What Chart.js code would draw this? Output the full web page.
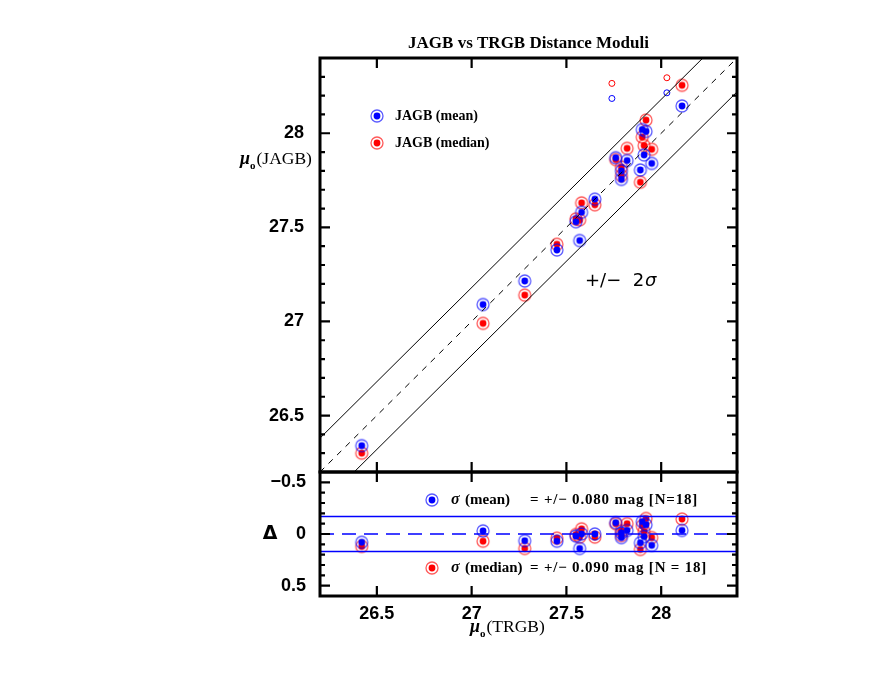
<!DOCTYPE html>
<html>
<head>
<meta charset="utf-8">
<script src="https://cdn.jsdelivr.net/npm/chart.js@4.4.0/dist/chart.umd.min.js"></script>
<style>
  html, body { margin: 0; padding: 0; background: #fff; }
</style>
</head>
<body>
<canvas id="chart" width="872" height="674"></canvas>
<script>
// distance moduli, one entry per galaxy (N = 18)
const trgb       = [26.42, 27.06, 27.28, 27.45, 27.55, 27.57, 27.58, 27.65, 27.76, 27.79, 27.79, 27.82, 27.89, 27.90, 27.91, 27.92, 27.95, 28.11];
const jagbMean   = [26.34, 27.09, 27.215, 27.38, 27.53, 27.43, 27.58, 27.65, 27.87, 27.80, 27.755, 27.855, 27.805, 28.02, 27.885, 28.01, 27.84, 28.145];
const jagbMedian = [26.30, 26.99, 27.14, 27.41, 27.545, 27.54, 27.63, 27.62, 27.86, 27.82, 27.775, 27.92, 27.74, 27.98, 27.935, 28.07, 27.915, 28.255];

// the two open circles (not in the fit)
const outTrgb   = [27.74, 28.03];
const outMean   = [28.185, 28.215];
const outMedian = [28.265, 28.295];

const axisRange = [26.2, 28.4];
const resRange  = [-0.6, 0.6];
const xTicks    = [26.5, 27, 27.5, 28];
const yTicks    = [26.5, 27, 27.5, 28];
const resTicks  = [-0.5, 0, 0.5];
const band      = 0.18;  // +/- 2 sigma, upper panel
const resBand   = 0.17;  // +/- 2 sigma, lower panel

const BLUE = '#0000ff';
const RED = '#ff0000';

// residuals
const resMean = trgb.map((t, i) => t - jagbMean[i]);
const resMedian = trgb.map((t, i) => t - jagbMedian[i]);

function pts(xs, ys) {
    return xs.map((x, i) => ({ x: x, y: ys[i] }));
}

function ringMarker(color) {
    const c = document.createElement('canvas');
    c.width = 16; c.height = 16;
    const g = c.getContext('2d');
    g.fillStyle = color;
    g.beginPath(); g.arc(8, 8, 3.4, 0, Math.PI * 2); g.fill();
    g.strokeStyle = color;
    g.globalAlpha = 0.65;
    g.lineWidth = 1.3;
    g.beginPath(); g.arc(8, 8, 6, 0, Math.PI * 2); g.stroke();
    return c;
}
const blueMark = ringMarker(BLUE);
const redMark = ringMarker(RED);

function lineSet(data, axis, color, width, dash) {
    return {
        data: data, yAxisID: axis, showLine: true, pointRadius: 0,
        borderColor: color, borderWidth: width, borderDash: dash || [], fill: false
    };
}
function markSet(data, axis, mark) {
    return { data: data, yAxisID: axis, pointStyle: mark, pointRadius: 6, showLine: false };
}

const tickFont = { family: 'Liberation Sans', size: 18, weight: 'bold' };
const fmt = v => (v < 0 ? '\u2212' + Math.abs(v) : String(v));

// frame, inward ticks and all the free text
const decor = {
    id: 'decor',
    afterDraw(chart) {
        const ctx = chart.ctx;
        const x = chart.scales.x, y = chart.scales.y, r = chart.scales.yRes;
        const L = x.left, R = x.right;
        ctx.save();
        ctx.strokeStyle = '#000';
        ctx.lineCap = 'butt';

        // ticks
        ctx.lineWidth = 2.2;
        [y, r].forEach(s => {
            xTicks.forEach(v => {
                const px = x.getPixelForValue(v);
                ctx.beginPath();
                ctx.moveTo(px, s.top); ctx.lineTo(px, s.top + 10);
                ctx.moveTo(px, s.bottom); ctx.lineTo(px, s.bottom - 10);
                ctx.stroke();
            });
            const lo = Math.ceil(s.min * 10), hi = Math.floor(s.max * 10);
            for (let k = lo; k <= hi; k++) {
                const py = s.getPixelForValue(k / 10);
                const len = k % 5 === 0 ? 10 : 5;
                ctx.beginPath();
                ctx.moveTo(L, py); ctx.lineTo(L + len, py);
                ctx.moveTo(R, py); ctx.lineTo(R - len, py);
                ctx.stroke();
            }
        });

        // frames
        ctx.lineWidth = 3;
        ctx.strokeRect(L, y.top, R - L, y.bottom - y.top);
        ctx.strokeRect(L, r.top, R - L, r.bottom - r.top);

        ctx.fillStyle = '#000';
        ctx.textBaseline = 'middle';
        ctx.textAlign = 'center';
        ctx.font = 'bold 17px "Liberation Serif"';
        ctx.fillText('JAGB vs TRGB Distance Moduli', (L + R) / 2, 44);

        // upper legend
        ctx.textAlign = 'left';
        ctx.drawImage(blueMark, 377 - 8, 116 - 8);
        ctx.drawImage(redMark, 377 - 8, 143 - 8);
        ctx.font = 'bold 14px "Liberation Serif"';
        ctx.fillText('JAGB (mean)', 395, 116);
        ctx.fillText('JAGB (median)', 395, 143);

        // +/- 2 sigma
        ctx.font = '18px "DejaVu Sans"';
        ctx.fillText('+/\u2212  2', 585, 281);
        const w = ctx.measureText('+/\u2212  2').width;
        ctx.font = 'italic 18px "DejaVu Sans"';
        ctx.fillText('\u03c3', 585 + w + 1, 281);

        // lower legend
        ctx.drawImage(blueMark, 432 - 8, 500 - 8);
        ctx.drawImage(redMark, 432 - 8, 568 - 8);
        const lowRows = [
            [500, '(mean)', '= +/\u2212 0.080 mag [N=18]'],
            [568, '(median)', '= +/\u2212 0.090 mag [N = 18]']
        ];
        lowRows.forEach(row => {
            ctx.letterSpacing = '0px';
            ctx.font = 'bold italic 16px "Liberation Serif"';
            ctx.fillText('\u03c3', 451, row[0]);
            ctx.font = 'bold 15px "Liberation Serif"';
            ctx.fillText(row[1], 465, row[0]);
            ctx.letterSpacing = '0.8px';
            ctx.fillText(row[2], 530, row[0]);
        });
        ctx.letterSpacing = '0px';

        // axis titles
        const muLabel = (x0, base, rest) => {
            ctx.textBaseline = 'alphabetic';
            ctx.textAlign = 'left';
            ctx.font = 'bold italic 18px "Liberation Serif"';
            ctx.fillText('\u03bc', x0, base);
            let cx = x0 + ctx.measureText('\u03bc').width;
            ctx.font = 'bold 11px "Liberation Serif"';
            ctx.fillText('o', cx, base + 5);
            cx += ctx.measureText('o').width + 1;
            ctx.font = '17.5px "Liberation Serif"';
            ctx.fillText(rest, cx, base);
        };
        muLabel(240, 164, '(JAGB)');
        muLabel(470, 632, '(TRGB)');

        ctx.textAlign = 'center';
        ctx.textBaseline = 'middle';
        ctx.font = 'bold 19px "DejaVu Sans"';
        ctx.fillText('\u0394', 270, 534);
        ctx.restore();
    }
};

new Chart(document.getElementById('chart'), {
    type: 'scatter',
    data: {
        datasets: [
            lineSet(pts(axisRange, axisRange), 'y', '#000', 1, [6, 6]),
            lineSet(pts(axisRange, axisRange.map(v => v + band)), 'y', '#000', 1),
            lineSet(pts(axisRange, axisRange.map(v => v - band)), 'y', '#000', 1),
            lineSet(pts(axisRange, [0, 0]), 'yRes', BLUE, 1.6, [14, 8]),
            lineSet(pts(axisRange, [resBand, resBand]), 'yRes', BLUE, 1.6),
            lineSet(pts(axisRange, [-resBand, -resBand]), 'yRes', BLUE, 1.6),
            markSet(pts(trgb, jagbMean), 'y', blueMark),
            markSet(pts(trgb, jagbMedian), 'y', redMark),
            { data: pts(outTrgb, outMean), yAxisID: 'y', pointStyle: 'circle', pointRadius: 3,
              borderColor: BLUE, borderWidth: 1, backgroundColor: 'rgba(0,0,0,0)' },
            { data: pts(outTrgb, outMedian), yAxisID: 'y', pointStyle: 'circle', pointRadius: 3,
              borderColor: RED, borderWidth: 1, backgroundColor: 'rgba(0,0,0,0)' },
            markSet(pts(trgb, resMean), 'yRes', blueMark),
            markSet(pts(trgb, resMedian), 'yRes', redMark)
        ]
    },
    options: {
        responsive: false,
        animation: false,
        devicePixelRatio: 1,
        layout: { padding: { left: 260, right: 135, top: 58, bottom: 38 } },
        plugins: { legend: { display: false }, tooltip: { enabled: false } },
        scales: {
            x: {
                type: 'linear', position: 'bottom', min: axisRange[0], max: axisRange[1],
                afterBuildTicks: s => { s.ticks = xTicks.map(v => ({ value: v })); },
                afterFit: s => { s.height = 40; },
                grid: { display: false, drawTicks: false }, border: { display: false },
                ticks: { font: tickFont, color: '#000', padding: 7, maxRotation: 0, callback: fmt }
            },
            yRes: {
                type: 'linear', position: 'left', stack: 'panels', stackWeight: 124,
                min: resRange[0], max: resRange[1], reverse: true,
                afterBuildTicks: s => { s.ticks = resTicks.map(v => ({ value: v })); },
                afterFit: s => { s.width = 60; },
                grid: { display: false, drawTicks: false }, border: { display: false },
                ticks: { font: tickFont, color: '#000', padding: 14, callback: fmt }
            },
            y: {
                type: 'linear', position: 'left', stack: 'panels', stackWeight: 414,
                min: axisRange[0], max: axisRange[1],
                afterBuildTicks: s => { s.ticks = yTicks.map(v => ({ value: v })); },
                afterFit: s => { s.width = 60; },
                grid: { display: false, drawTicks: false }, border: { display: false },
                ticks: { font: tickFont, color: '#000', padding: 16, callback: fmt }
            }
        }
    },
    plugins: [decor]
});
</script>
</body>
</html>
